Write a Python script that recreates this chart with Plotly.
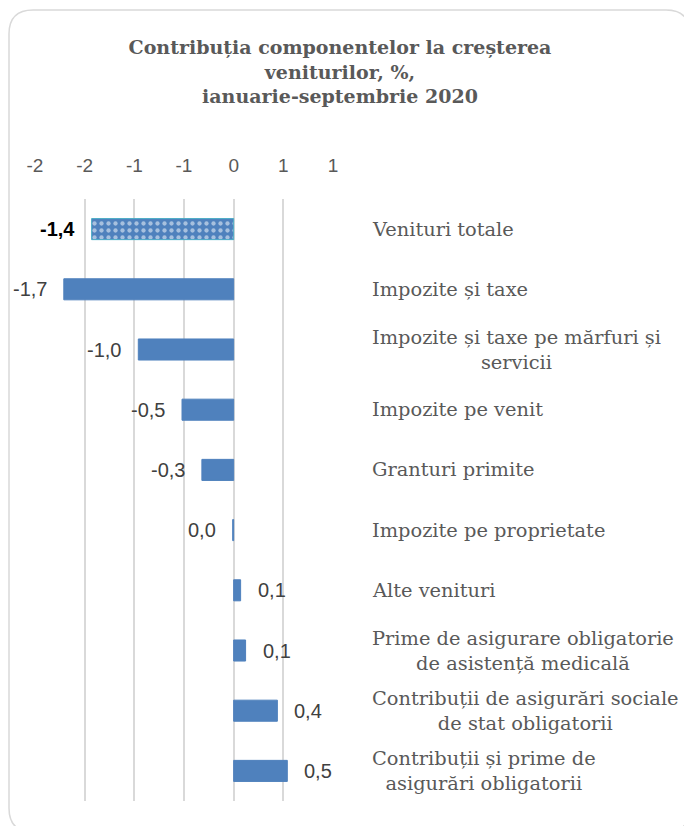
import plotly.graph_objects as go

categories = [
    "Venituri totale",
    "Impozite și taxe",
    "Impozite și taxe pe mărfuri și<br>servicii",
    "Impozite pe venit",
    "Granturi primite",
    "Impozite pe proprietate",
    "Alte venituri",
    "Prime de asigurare obligatorie<br>de asistență medicală",
    "Contribuții de asigurări sociale<br>de stat obligatorii",
    "Contribuții și prime de<br>asigurări obligatorii",
]
values = [-1.43, -1.71, -0.96, -0.52, -0.32, -0.01, 0.07, 0.12, 0.44, 0.54]
value_labels = ["-1,4", "-1,7", "-1,0", "-0,5", "-0,3", "0,0", "0,1", "0,1", "0,4", "0,5"]
tick_values = [-2, -1.5, -1, -0.5, 0, 0.5, 1]
tick_labels = ["-2", "-2", "-1", "-1", "0", "1", "1"]

W, H = 684, 826
L, R, T, B = 35, 333, 199, 801

keys = [f"c{i}" for i in range(len(categories))]
patterns = ["."] + [""] * (len(values) - 1)
line_colors = ["#4bacc6"] + ["#4f81bd"] * (len(values) - 1)

fig = go.Figure(go.Bar(
    x=values, y=keys, orientation="h",
    marker=dict(color="#4f81bd", line=dict(color=line_colors, width=1),
                pattern=dict(shape=patterns, fgcolor="white", size=7, solidity=0.3)),
    width=0.35, hoverinfo="skip",
))

def px(x):
    return (x - L) / (R - L)

def py(y):
    return (B - y) / (B - T)

annotations = []
for i, (k, c) in enumerate(zip(keys, categories)):
    annotations.append(dict(
        x=px(370), y=k, xref="paper", yref="y", text=c, showarrow=False,
        xanchor="left", align="center",
        font=dict(family="DejaVu Serif", size=19.4, color="#595959"),
    ))

for i, (k, v, t) in enumerate(zip(keys, values, value_labels)):
    neg = v < 0
    annotations.append(dict(
        x=v, y=k, xref="x", yref="y",
        text=f"<b>{t}</b>" if i == 0 else t, showarrow=False,
        xanchor="right" if neg else "left", xshift=-15 if neg else 15,
        font=dict(family="Liberation Sans", size=20,
                  color="#000000" if i == 0 else "#404040"),
    ))

# rounded chart border
x0, y0, x1, y1, r = 9, 10, 690, 832, 24
path = (f"M {px(x0)},{py(y0 + r)} Q {px(x0)},{py(y0)} {px(x0 + r)},{py(y0)} "
        f"L {px(x1 - r)},{py(y0)} Q {px(x1)},{py(y0)} {px(x1)},{py(y0 + r)} "
        f"L {px(x1)},{py(y1 - r)} Q {px(x1)},{py(y1)} {px(x1 - r)},{py(y1)} "
        f"L {px(x0 + r)},{py(y1)} Q {px(x0)},{py(y1)} {px(x0)},{py(y1 - r)} Z")

fig.update_layout(
    width=W, height=H,
    margin=dict(l=L, r=W - R, t=T, b=H - B),
    paper_bgcolor="white", plot_bgcolor="white",
    showlegend=False,
    title=dict(
        text="<b>Contribuția componentelor la creșterea<br>veniturilor, %,<br>ianuarie-septembrie 2020</b>",
        x=340 / W, xref="container", xanchor="center",
        y=1 - 54 / H, yref="container", yanchor="top",
        font=dict(family="DejaVu Serif", size=19, color="#595959"),
    ),
    xaxis=dict(
        range=[-2, 1], side="top", tickvals=tick_values, ticktext=tick_labels,
        showgrid=True, gridcolor="#d9d9d9", gridwidth=1.5, zeroline=False,
        showline=False, ticks="", ticklabelstandoff=22,
        tickfont=dict(family="Liberation Sans", size=19, color="#595959"),
    ),
    yaxis=dict(
        categoryorder="array", categoryarray=keys, autorange="reversed",
        showticklabels=False, showgrid=False, zeroline=False, showline=False,
    ),
    annotations=annotations,
    shapes=[dict(type="path", path=path, xref="paper", yref="paper",
                 line=dict(color="#d9d9d9", width=1.5), layer="below")],
)

fig.write_html("out.html", config={"displayModeBar": False},
               post_script="document.body.style.margin='0';document.body.style.overflow='hidden';")
